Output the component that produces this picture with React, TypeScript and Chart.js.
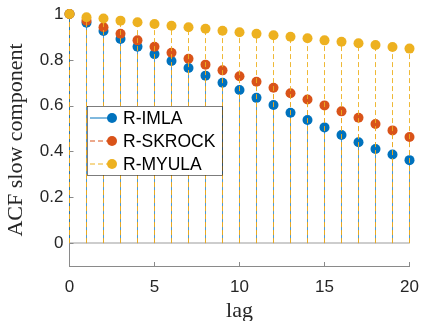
import React, { useEffect, useRef } from "react";
import { Chart, registerables } from "chart.js";
Chart.register(...registerables);

const lags = [0, 1, 2, 3, 4, 5, 6, 7, 8, 9, 10, 11, 12, 13, 14, 15, 16, 17, 18, 19, 20];
const imla = [1, 0.962, 0.926, 0.891, 0.857, 0.825, 0.795, 0.764, 0.731, 0.700, 0.668, 0.634, 0.603, 0.569, 0.537, 0.505, 0.472, 0.440, 0.411, 0.387, 0.362];
const skrock = [1, 0.971, 0.942, 0.914, 0.885, 0.857, 0.831, 0.805, 0.779, 0.754, 0.728, 0.704, 0.678, 0.654, 0.627, 0.601, 0.575, 0.547, 0.520, 0.492, 0.463];
const myula = [1, 0.986, 0.980, 0.971, 0.964, 0.956, 0.949, 0.942, 0.936, 0.927, 0.920, 0.914, 0.907, 0.901, 0.894, 0.885, 0.879, 0.872, 0.865, 0.856, 0.849];
const seriesNames = ["R-IMLA", "R-SKROCK", "R-MYULA"];
const xTicks = [0, 5, 10, 15, 20];
const yTicks = [0, 0.2, 0.4, 0.6, 0.8, 1];

const colors = ["#0072BD", "#D95319", "#EDB120"];
const stemColors = ["rgba(0,114,189,0.7)", "rgba(217,83,25,0.7)", "rgba(237,177,32,0.9)"];
const dashes: number[][] = [[], [5, 3], [5, 3]];

function stemData(vals: number[]) {
  const out: any[] = [];
  lags.forEach((x, i) => {
    out.push({ x, y: 0 });
    out.push({ x, y: vals[i] });
    out.push({ x, y: null });
  });
  return out;
}
function pts(vals: number[]) {
  return lags.map((x, i) => ({ x, y: vals[i] }));
}

export default function App() {
  const ref = useRef<HTMLCanvasElement | null>(null);
  useEffect(() => {
    document.body.style.margin = "0";
    const all = [imla, skrock, myula];
    const datasets: any[] = [];
    all.forEach((vals, k) => {
      datasets.push({
        type: "line",
        label: seriesNames[k] + "-stem",
        data: stemData(vals),
        borderColor: stemColors[k],
        borderWidth: 1,
        borderDash: dashes[k],
        pointRadius: 0,
        spanGaps: false,
        fill: false,
        clip: false,
        order: 10 - 2 * k,
      });
      datasets.push({
        type: "scatter",
        label: seriesNames[k],
        data: pts(vals),
        backgroundColor: colors[k],
        borderColor: colors[k],
        pointRadius: 5,
        pointBorderWidth: 0,
        showLine: false,
        clip: false,
        order: 9 - 2 * k,
      });
    });

    const decor = {
      id: "decor",
      beforeDatasetsDraw(chart: any) {
        const { ctx, scales, chartArea } = chart;
        const x = scales.x, y = scales.y;
        ctx.save();
        ctx.strokeStyle = "#bdbdbd";
        ctx.lineWidth = 1.5;
        ctx.beginPath();
        ctx.moveTo(chartArea.left, y.getPixelForValue(0));
        ctx.lineTo(chartArea.right, y.getPixelForValue(0));
        ctx.stroke();
        ctx.strokeStyle = "#8a8a8a";
        ctx.lineWidth = 1;
        xTicks.forEach((t) => {
          const px = Math.floor(x.getPixelForValue(t)) + 0.5;
          ctx.beginPath();
          ctx.moveTo(px, chartArea.bottom);
          ctx.lineTo(px, chartArea.bottom - 4);
          ctx.stroke();
        });
        yTicks.forEach((t) => {
          const py = Math.round(y.getPixelForValue(t)) + 0.5;
          ctx.beginPath();
          ctx.moveTo(chartArea.left, py);
          ctx.lineTo(chartArea.left + 4, py);
          ctx.stroke();
        });
        ctx.restore();
      },
      afterDraw(chart: any) {
        const { ctx } = chart;
        ctx.save();
        const bx = 87, by = 106, bw = 135, bh = 69;
        ctx.fillStyle = "#ffffff";
        ctx.fillRect(bx, by, bw, bh);
        ctx.strokeStyle = "#262626";
        ctx.lineWidth = 0.6;
        ctx.strokeRect(bx + 0.5, by + 0.5, bw, bh);
        const rows = [118, 141, 164];
        ctx.font = "17.5px 'Liberation Sans', Arial, sans-serif";
        ctx.textBaseline = "middle";
        rows.forEach((ry, k) => {
          ctx.strokeStyle = colors[k];
          ctx.lineWidth = 1;
          ctx.setLineDash(dashes[k]);
          ctx.beginPath();
          ctx.moveTo(90, ry);
          ctx.lineTo(112, ry);
          ctx.stroke();
          ctx.setLineDash([]);
          ctx.fillStyle = colors[k];
          ctx.beginPath();
          ctx.arc(112, ry, 5, 0, Math.PI * 2);
          ctx.fill();
          ctx.fillStyle = "#000000";
          ctx.fillText(seriesNames[k], 123, ry + 1);
        });
        ctx.restore();
      },
    };

    const chart = new Chart(ref.current as HTMLCanvasElement, {
      type: "scatter",
      data: { datasets },
      options: {
        animation: false,
        responsive: false,
        layout: { padding: { left: 0, right: 11.5, top: 14, bottom: 0 } },
        plugins: { legend: { display: false }, tooltip: { enabled: false } },
        scales: {
          x: {
            type: "linear",
            min: 0,
            max: 20,
            afterBuildTicks: (s: any) => { s.ticks = xTicks.map((v) => ({ value: v })); },
            afterFit: (s: any) => { s.height = 55; s.paddingLeft = 0; s.paddingRight = 0; },
            grid: { display: false, drawTicks: false },
            border: { display: true, color: "#8a8a8a", width: 1 },
            ticks: { padding: 11, color: "#262626", font: { family: "'Liberation Sans', Arial, sans-serif", size: 17 }, maxRotation: 0 },
            title: { display: true, text: "lag", color: "#262626", font: { family: "'Liberation Serif', serif", size: 22 }, padding: { top: 0, bottom: -3 } },
          },
          y: {
            type: "linear",
            min: -0.1,
            max: 1,
            afterBuildTicks: (s: any) => { s.ticks = yTicks.map((v) => ({ value: v })); },
            afterFit: (s: any) => { s.width = 69.5; s.paddingTop = 0; s.paddingBottom = 0; },
            grid: { display: false, drawTicks: false },
            border: { display: true, color: "#8a8a8a", width: 1 },
            ticks: { padding: 6, color: "#262626", font: { family: "'Liberation Sans', Arial, sans-serif", size: 17 }, callback: (v: any) => String(v) },
            title: { display: true, text: "ACF slow component", color: "#262626", font: { family: "'Liberation Serif', serif", size: 22 }, padding: { top: 3, bottom: 4 } },
          },
        },
      } as any,
      plugins: [decor],
    });
    return () => chart.destroy();
  }, []);
  return (
    <div style={{ position: "absolute", left: 0, top: 0, width: 421, height: 321 }}>
      <canvas ref={ref} width={421} height={321} />
    </div>
  );
}
